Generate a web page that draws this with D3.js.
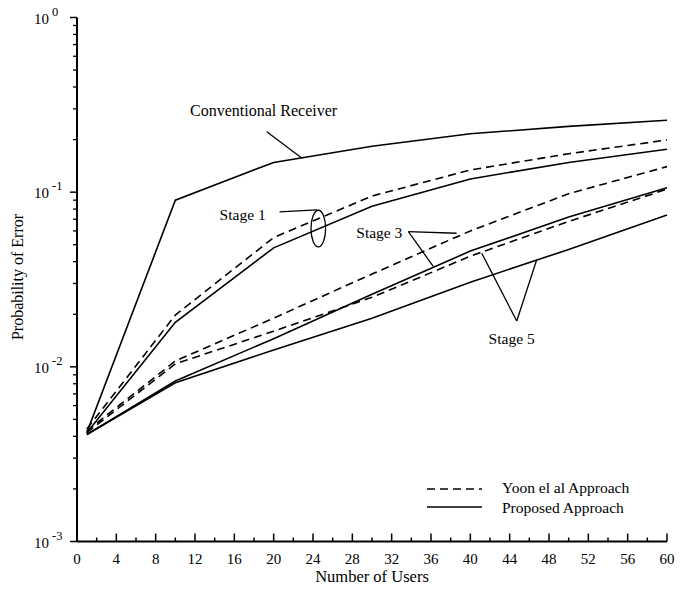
<!DOCTYPE html>
<html>
<head>
<meta charset="utf-8">
<script src="https://cdn.jsdelivr.net/npm/d3@7"></script>
<style>
  body { margin: 0; background: #fff; }
  text { font-family: "Liberation Serif", "DejaVu Serif", serif; fill: #000; }
  .curve { fill: none; stroke: #000; stroke-width: 1.6; }
  .dashed { stroke-dasharray: 8,5; }
  .lead { stroke: #000; stroke-width: 1.3; fill: none; }
</style>
</head>
<body>
<svg width="684" height="592"></svg>
<script>
// values
var users = [1, 10, 20, 30, 40, 50, 60];
var conventional   = [0.0042, 0.090, 0.148, 0.183, 0.216, 0.238, 0.258];
var stage1Yoon     = [0.0044, 0.0198, 0.055, 0.095, 0.134, 0.166, 0.199];
var stage1Proposed = [0.0042, 0.0180, 0.048, 0.083, 0.119, 0.148, 0.176];
var stage3Yoon     = [0.0043, 0.0108, 0.019, 0.034, 0.060, 0.098, 0.140];
var stage3Proposed = [0.0041, 0.0083, 0.0145, 0.026, 0.046, 0.072, 0.106];
var stage5Yoon     = [0.0042, 0.0104, 0.016, 0.025, 0.043, 0.068, 0.104];
var stage5Proposed = [0.0041, 0.0081, 0.0125, 0.019, 0.0305, 0.047, 0.074];

var xTicks = d3.range(0, 61, 4);
var xMinor = d3.range(2, 61, 4);
var yDecades = [-3, -2, -1, 0];

var series = [
  { values: conventional, dashed: false },
  { values: stage1Yoon, dashed: true },
  { values: stage1Proposed, dashed: false },
  { values: stage3Yoon, dashed: true },
  { values: stage3Proposed, dashed: false },
  { values: stage5Yoon, dashed: true },
  { values: stage5Proposed, dashed: false }
];

var svg = d3.select('svg');

var x = d3.scaleLinear().domain([0, 60]).range([77, 667]);
var y = d3.scaleLog().domain([1e-3, 1]).range([541.5, 17.5]);

// axes
var xAxisG = svg.append('g');
xAxisG.append('line')
    .attr('x1', x(0)).attr('x2', x(60))
    .attr('y1', y(1e-3)).attr('y2', y(1e-3))
    .attr('stroke', '#000').attr('stroke-width', 2);
xAxisG.selectAll('.major')
    .data(xTicks)
    .enter()
    .append('line')
    .attr('x1', function (d) { return x(d); })
    .attr('x2', function (d) { return x(d); })
    .attr('y1', y(1e-3)).attr('y2', y(1e-3) - 8)
    .attr('stroke', '#000').attr('stroke-width', 1.5);
xAxisG.selectAll('.minor')
    .data(xMinor)
    .enter()
    .append('line')
    .attr('x1', function (d) { return x(d); })
    .attr('x2', function (d) { return x(d); })
    .attr('y1', y(1e-3)).attr('y2', y(1e-3) - 4)
    .attr('stroke', '#000').attr('stroke-width', 1.5);
xAxisG.selectAll('.lbl')
    .data(xTicks)
    .enter()
    .append('text')
    .attr('x', function (d) { return x(d); })
    .attr('y', y(1e-3) + 22)
    .attr('text-anchor', 'middle')
    .style('font-size', '15px')
    .text(function (d) { return d; });

var yAxisG = svg.append('g');
yAxisG.append('line')
    .attr('x1', x(0)).attr('x2', x(0))
    .attr('y1', y(1e-3)).attr('y2', y(1))
    .attr('stroke', '#000').attr('stroke-width', 2);

var yMinor = [];
yDecades.slice(0, 3).forEach(function (e) {
  for (var k = 2; k <= 9; k++) yMinor.push(k * Math.pow(10, e));
});
yAxisG.selectAll('.minor')
    .data(yMinor)
    .enter()
    .append('line')
    .attr('x1', x(0) - 4).attr('x2', x(0))
    .attr('y1', function (d) { return y(d); })
    .attr('y2', function (d) { return y(d); })
    .attr('stroke', '#000').attr('stroke-width', 1.3);
yAxisG.selectAll('.major')
    .data(yDecades)
    .enter()
    .append('line')
    .attr('x1', x(0) - 7).attr('x2', x(0))
    .attr('y1', function (d) { return y(Math.pow(10, d)); })
    .attr('y2', function (d) { return y(Math.pow(10, d)); })
    .attr('stroke', '#000').attr('stroke-width', 1.5);

var yLbl = yAxisG.selectAll('.lbl')
    .data(yDecades)
    .enter()
    .append('text')
    .attr('x', 34)
    .attr('y', function (d) { return y(Math.pow(10, d)) + 6; })
    .style('font-size', '15px');
yLbl.append('tspan').text('10');
yLbl.append('tspan')
    .attr('dx', 3)
    .attr('dy', -8)
    .style('font-size', '12.5px')
    .text(function (d) { return d === 0 ? '0' : String(d); });

svg.append('text')
    .attr('x', x(30))
    .attr('y', 582)
    .attr('text-anchor', 'middle')
    .style('font-size', '16.5px')
    .text('Number of Users');

svg.append('text')
    .attr('transform', 'translate(23,' + 277 + ')rotate(-90)')
    .attr('text-anchor', 'middle')
    .style('font-size', '16px')
    .text('Probability of Error');

// curves
var line = d3.line()
    .x(function (d, i) { return x(users[i]); })
    .y(function (d) { return y(d); });

svg.selectAll('.curve')
    .data(series)
    .enter()
    .append('path')
    .attr('class', function (d) { return d.dashed ? 'curve dashed' : 'curve'; })
    .attr('d', function (d) { return line(d.values); });

// annotations
function seg(x1, y1, x2, y2) {
  svg.append('line').attr('class', 'lead')
      .attr('x1', x(x1)).attr('y1', y(y1))
      .attr('x2', x(x2)).attr('y2', y(y2));
}

svg.append('text')
    .attr('x', x(11.5)).attr('y', y(0.273))
    .style('font-size', '16px')
    .text('Conventional Receiver');
seg(19.3, 0.222, 22.85, 0.157);

svg.append('text')
    .attr('x', x(14.5)).attr('y', y(0.0742) + 5)
    .style('font-size', '15.5px')
    .text('Stage 1');
seg(20.6, 0.0771, 24.4, 0.0791);
svg.append('ellipse')
    .attr('class', 'lead')
    .attr('cx', x(24.54)).attr('cy', y(0.0619))
    .attr('rx', 7.3).attr('ry', 18.3);

svg.append('text')
    .attr('x', x(28.4)).attr('y', y(0.0587) + 5)
    .style('font-size', '15.5px')
    .text('Stage 3');
seg(33.7, 0.0595, 38.6, 0.0582);
seg(33.7, 0.0595, 36.24, 0.0375);

svg.append('text')
    .attr('x', x(44.2)).attr('y', y(0.0145) + 5)
    .attr('text-anchor', 'middle')
    .style('font-size', '15.5px')
    .text('Stage 5');
seg(44.72, 0.0183, 41.16, 0.0447);
seg(44.72, 0.0183, 46.75, 0.041);

// legend
var legend = svg.append('g');
legend.append('line')
    .attr('class', 'curve dashed')
    .attr('x1', 427).attr('x2', 482).attr('y1', 489).attr('y2', 489);
legend.append('line')
    .attr('class', 'curve')
    .attr('x1', 427).attr('x2', 482).attr('y1', 507).attr('y2', 507);
legend.append('text')
    .attr('x', 502).attr('y', 493)
    .style('font-size', '15.5px')
    .text('Yoon el al Approach');
legend.append('text')
    .attr('x', 502).attr('y', 513)
    .style('font-size', '15.5px')
    .text('Proposed Approach');
</script>
</body>
</html>
